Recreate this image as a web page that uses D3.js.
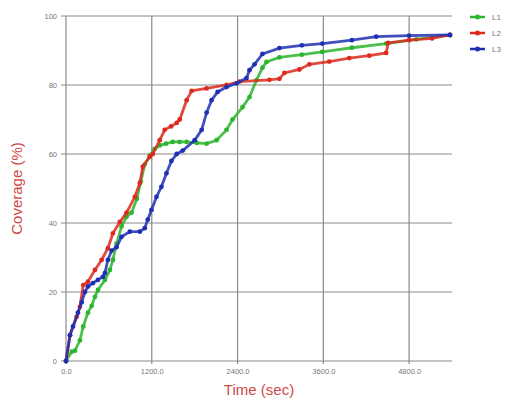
<!DOCTYPE html>
<html>
<head>
<meta charset="utf-8">
<script src="https://cdn.jsdelivr.net/npm/d3@7"></script>
<style>
  body { margin: 0; background: #fff; }
  .tick text { font-family: "Liberation Sans", Arial, sans-serif; font-size: 7.5px; fill: #777; }
</style>
</head>
<body>
<div class="chart"></div>
<script>
var totalWidth = 511;
var totalHeight = 405;

var margin = { top: 16, left: 66, bottom: 44, right: 59 };
var width = totalWidth - margin.left - margin.right;
var height = totalHeight - margin.top - margin.bottom;

// DATA (time in sec, coverage in %)
var seriesNames = ["L1", "L2", "L3"];
var seriesColors = ["#2db52d", "#dd2a1e", "#1f2fb4"];
var xTicks = [0, 1200, 2400, 3600, 4800];
var xTickLabels = ["0.0", "1200.0", "2400.0", "3600.0", "4800.0"];
var yTicks = [0, 20, 40, 60, 80, 100];

var l1Time = [0, 80, 126, 195, 241, 307, 359, 405, 447, 544, 614, 656, 707, 777, 847, 917, 991, 1046, 1102, 1172, 1240, 1312, 1400, 1493, 1590, 1688, 1830, 1967, 2107, 2246, 2330, 2470, 2567, 2665, 2749, 2805, 2986, 3300, 3586, 4000, 4479, 4900, 5372];
var l1Cov  = [0, 2.7, 3, 6, 10, 14, 16, 18.6, 20.6, 23.5, 26.4, 29.3, 34, 39, 41.8, 43, 47, 52, 57, 59.5, 61.5, 62.5, 63, 63.5, 63.5, 63.5, 63.2, 63, 64, 67, 70, 73.6, 76.5, 81.4, 85, 86.7, 88, 88.8, 89.6, 90.8, 92, 93.2, 94.5];

var l2Time = [0, 56, 149, 195, 241, 307, 405, 498, 586, 656, 753, 847, 963, 1033, 1074, 1172, 1214, 1312, 1381, 1470, 1549, 1591, 1688, 1758, 1967, 2246, 2428, 2846, 2986, 3056, 3265, 3405, 3684, 3963, 4242, 4479, 4507, 4800, 5121, 5372];
var l2Cov  = [0, 7.5, 12.8, 15.7, 22, 23, 26.4, 29.3, 32.7, 37, 40.3, 43, 47.6, 51.6, 56.3, 59.2, 60, 64, 67, 68, 69, 70, 75.6, 78.3, 79, 80, 81, 81.5, 81.8, 83.5, 84.5, 86, 86.8, 87.8, 88.5, 89.3, 92.2, 93, 93.5, 94.5];

var l3Time = [0, 56, 98, 167, 219, 265, 307, 377, 447, 516, 544, 586, 638, 707, 777, 893, 1033, 1102, 1144, 1196, 1266, 1335, 1405, 1475, 1549, 1633, 1800, 1898, 1967, 2037, 2121, 2246, 2386, 2526, 2567, 2637, 2749, 2986, 3300, 3586, 4000, 4340, 4800, 5372];
var l3Cov  = [0, 7.5, 10, 14, 17, 20, 21.6, 22.6, 23.5, 24.4, 25.5, 29.3, 32, 33, 36, 37.5, 37.5, 38.5, 41, 43.8, 47.6, 50.5, 54.4, 58, 60, 61, 64, 67, 72, 75.6, 78, 79.4, 80.5, 82, 84.3, 86, 89, 90.7, 91.5, 92, 93, 94, 94.3, 94.5];

var timeLists = [l1Time, l2Time, l3Time];
var covLists = [l1Cov, l2Cov, l3Cov];

var series = seriesNames.map(function(name, i) {
  return {
    name: name,
    color: seriesColors[i],
    values: timeLists[i].map(function(t, j) { return { t: t, c: covLists[i][j] }; })
  };
});

// SCALES
var xScale = d3.scaleLinear().domain([0, 5400]).range([0, width]);
var yScale = d3.scaleLinear().domain([0, 100]).range([height, 0]);

var svg = d3.select(".chart")
  .append("svg")
  .attr("width", totalWidth)
  .attr("height", totalHeight);

var mainGroup = svg.append("g")
  .attr("transform", "translate(" + margin.left + "," + margin.top + ")");

// GRID
mainGroup.append("g")
  .selectAll("line.h")
  .data(yTicks)
  .enter()
  .append("line")
  .attr("x1", -5)
  .attr("x2", width)
  .attr("y1", function(d) { return yScale(d); })
  .attr("y2", function(d) { return yScale(d); })
  .attr("stroke", "#8a8a8a")
  .attr("stroke-width", 1.2);

mainGroup.append("g")
  .selectAll("line.v")
  .data(xTicks)
  .enter()
  .append("line")
  .attr("x1", function(d) { return xScale(d); })
  .attr("x2", function(d) { return xScale(d); })
  .attr("y1", 0)
  .attr("y2", height + 3)
  .attr("stroke", "#8a8a8a")
  .attr("stroke-width", 1.2);

// AXES (labels only)
var xAxis = d3.axisBottom(xScale)
  .tickValues(xTicks)
  .tickFormat(function(d, i) { return xTickLabels[i]; })
  .tickSize(0)
  .tickPadding(8);

var yAxis = d3.axisLeft(yScale)
  .tickValues(yTicks)
  .tickSize(0)
  .tickPadding(9);

mainGroup.append("g")
  .attr("transform", "translate(0," + height + ")")
  .call(xAxis)
  .call(function(g) { g.select(".domain").remove(); });

mainGroup.append("g")
  .call(yAxis)
  .call(function(g) { g.select(".domain").remove(); });

// LINES
var line = d3.line()
  .x(function(d) { return xScale(d.t); })
  .y(function(d) { return yScale(d.c); });

var seriesGroup = mainGroup.selectAll("g.series")
  .data(series)
  .enter()
  .append("g")
  .attr("class", "series");

seriesGroup.append("path")
  .attr("d", function(d) { return line(d.values); })
  .attr("fill", "none")
  .attr("stroke", function(d) { return d.color; })
  .attr("stroke-width", 2.8)
  .attr("stroke-opacity", 0.85);

seriesGroup.selectAll("circle")
  .data(function(d) { return d.values.map(function(v) { return { t: v.t, c: v.c, color: d.color }; }); })
  .enter()
  .append("circle")
  .attr("cx", function(d) { return xScale(d.t); })
  .attr("cy", function(d) { return yScale(d.c); })
  .attr("r", 2.4)
  .attr("fill", function(d) { return d.color; });

// AXIS TITLES
svg.append("text")
  .attr("x", margin.left + xScale(2700))
  .attr("y", 395)
  .attr("text-anchor", "middle")
  .style("font-family", "Liberation Sans, Arial, sans-serif")
  .style("font-size", "15px")
  .style("fill", "#cf4a4a")
  .text("Time (sec)");

svg.append("text")
  .attr("transform", "translate(22," + (margin.top + yScale(50)) + ") rotate(-90)")
  .attr("text-anchor", "middle")
  .style("font-family", "Liberation Sans, Arial, sans-serif")
  .style("font-size", "15px")
  .style("fill", "#cf4a4a")
  .text("Coverage (%)");

// LEGEND
var legend = svg.append("g")
  .attr("transform", "translate(470,17)");

var legendItem = legend.selectAll("g")
  .data(series)
  .enter()
  .append("g")
  .attr("transform", function(d, i) { return "translate(0," + i * 16 + ")"; });

legendItem.append("line")
  .attr("x1", 0)
  .attr("x2", 15)
  .attr("stroke", function(d) { return d.color; })
  .attr("stroke-width", 2.5);

legendItem.append("circle")
  .attr("cx", 7.5)
  .attr("r", 2.5)
  .attr("fill", function(d) { return d.color; });

legendItem.append("text")
  .attr("x", 22)
  .attr("dy", "0.35em")
  .style("font-family", "Liberation Sans, Arial, sans-serif")
  .style("font-size", "8px")
  .style("fill", "#777")
  .text(function(d) { return d.name; });
</script>
</body>
</html>
